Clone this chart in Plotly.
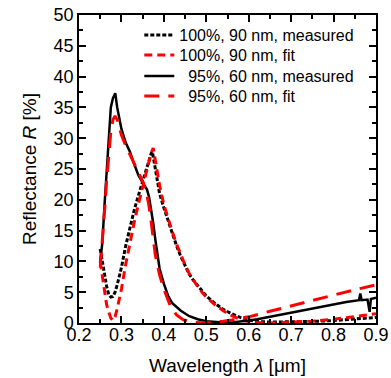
import plotly.graph_objects as go

# 100%, 90 nm, measured
wl_m100 = [0.25, 0.255, 0.26, 0.265, 0.27, 0.275, 0.28, 0.285, 0.29, 0.30, 0.31, 0.32, 0.33, 0.34, 0.35,
           0.36, 0.37, 0.373, 0.38, 0.39, 0.40, 0.41, 0.42, 0.43, 0.44, 0.45, 0.46, 0.47, 0.48, 0.49,
           0.50, 0.52, 0.54, 0.56, 0.58, 0.60, 0.62, 0.65, 0.70, 0.75, 0.80, 0.85, 0.90]
r_m100 = [12.0, 9.8, 7.8, 6.0, 4.6, 4.2, 4.3, 5.0, 6.2, 9.0, 12.5, 15.5, 18.3, 20.7, 23.0,
          25.3, 27.5, 27.8, 25.0, 21.0, 18.7, 16.5, 14.6, 12.5, 10.8, 9.2, 7.9, 6.9, 6.0, 5.1,
          4.4, 3.2, 2.2, 1.5, 0.9, 0.5, 0.25, 0.15, 0.15, 0.25, 0.4, 0.6, 0.9]

# 100%, 90 nm, fit
wl_f100 = [0.25, 0.255, 0.26, 0.265, 0.27, 0.275, 0.28, 0.285, 0.29, 0.30, 0.31, 0.32, 0.33, 0.34, 0.35,
           0.36, 0.37, 0.375, 0.38, 0.39, 0.40, 0.41, 0.42, 0.43, 0.44, 0.45, 0.46, 0.47, 0.48, 0.49,
           0.50, 0.52, 0.54, 0.56, 0.58, 0.60, 0.62, 0.65, 0.70, 0.75, 0.80, 0.85, 0.90]
r_f100 = [10.0, 7.5, 5.0, 3.0, 1.8, 0.8, 0.4, 1.0, 2.3, 5.5, 9.5, 13.0, 16.3, 19.3, 22.0,
          24.8, 27.6, 28.4, 26.5, 22.3, 19.2, 16.8, 14.8, 12.8, 11.0, 9.4, 8.0, 6.9, 5.9, 5.0,
          4.2, 3.0, 2.0, 1.2, 0.6, 0.2, 0.05, 0.0, 0.1, 0.3, 0.6, 1.0, 1.5]

# 95%, 60 nm, measured
wl_m95 = [0.25, 0.255, 0.26, 0.265, 0.27, 0.275, 0.28, 0.2855, 0.29, 0.30, 0.31, 0.32, 0.33, 0.34, 0.35,
          0.355, 0.36, 0.365, 0.37, 0.375, 0.38, 0.385, 0.39, 0.40, 0.41, 0.42, 0.44, 0.46, 0.48,
          0.50, 0.52, 0.54, 0.56, 0.58, 0.60, 0.62, 0.65, 0.70, 0.75, 0.79, 0.83, 0.86, 0.863,
          0.866, 0.88, 0.885, 0.888, 0.90]
r_m95 = [10.0, 13.0, 19.0, 25.0, 31.0, 35.0, 36.5, 37.3, 35.0, 31.5, 29.3, 27.8, 25.8, 24.0, 22.8,
         22.2, 21.7, 20.5, 18.5, 16.2, 13.5, 10.8, 8.8, 6.4, 4.4, 3.2, 2.0, 1.1, 0.6,
         0.3, 0.15, 0.1, 0.1, 0.2, 0.4, 0.6, 1.0, 1.6, 2.3, 2.9, 3.4, 3.7, 4.8,
         3.7, 3.8, 1.8, 3.9, 4.1]

# 95%, 60 nm, fit
wl_f95 = [0.25, 0.255, 0.26, 0.265, 0.27, 0.275, 0.28, 0.285, 0.29, 0.30, 0.31, 0.32, 0.33, 0.34, 0.35,
          0.36, 0.365, 0.37, 0.375, 0.38, 0.39, 0.40, 0.415, 0.43, 0.446, 0.47, 0.50, 0.52, 0.54,
          0.56, 0.58, 0.60, 0.65, 0.70, 0.75, 0.80, 0.85, 0.90]
r_f95 = [9.0, 13.0, 18.0, 23.0, 27.5, 31.0, 33.0, 33.6, 33.0, 30.5, 28.8, 27.3, 25.8, 24.5, 23.0,
         20.8, 19.0, 16.5, 14.0, 11.0, 7.8, 5.5, 2.8, 1.3, 0.5, 0.1, 0.0, 0.1, 0.3,
         0.5, 0.7, 1.0, 1.9, 2.8, 3.6, 4.6, 5.4, 6.2]

names = ["100%, 90 nm, measured", "100%, 90 nm, fit",
         "\u00a0\u00a095%, 60 nm, measured", "\u00a0\u00a095%, 60 nm, fit"]

FONT = "Arial, Liberation Sans, sans-serif"

fig = go.Figure()
fig.add_trace(go.Scatter(x=wl_m100, y=r_m100, mode="lines", name=names[0], legend="legend",
                         line=dict(color="black", width=3, dash="4px,2px")))
fig.add_trace(go.Scatter(x=wl_f100, y=r_f100, mode="lines", name=names[1], legend="legend2",
                         line=dict(color="#ff0000", width=3, dash="8px,5px")))
fig.add_trace(go.Scatter(x=wl_m95, y=r_m95, mode="lines", name=names[2], legend="legend3",
                         line=dict(color="black", width=2.5)))
fig.add_trace(go.Scatter(x=wl_f95, y=r_f95, mode="lines", name=names[3], legend="legend4",
                         line=dict(color="#ff0000", width=3, dash="15px,9px")))

axis_common = dict(
    showline=True, linecolor="black", linewidth=1.5, mirror="allticks",
    ticks="inside", ticklen=7, tickwidth=2, tickcolor="black",
    showgrid=False, zeroline=False, automargin=False,
    tickfont=dict(family=FONT, size=18, color="black"),
)

fig.update_xaxes(
    range=[0.2, 0.9], tickmode="linear", tick0=0.2, dtick=0.1, tickformat=".1f",
    ticklabelstandoff=-5,
    minor=dict(ticks="inside", ticklen=4, dtick=0.05, tick0=0.2, tickcolor="black", tickwidth=1.5),
    title=dict(text="Wavelength <i>λ</i> [μm]", font=dict(family=FONT, size=19, color="black"),
               standoff=14),
    **axis_common,
)
fig.update_yaxes(
    range=[0, 50], tickmode="linear", tick0=0, dtick=5,
    minor=dict(ticks="inside", ticklen=4, dtick=2.5, tick0=0, tickcolor="black", tickwidth=1.5),
    title=dict(text="Reflectance <i>R</i> [%]", font=dict(family=FONT, size=19, color="black"),
               standoff=12),
    **axis_common,
)

leg_common = dict(x=0.203, xanchor="left", yanchor="middle",
                  bgcolor="rgba(0,0,0,0)", borderwidth=0,
                  font=dict(family=FONT, size=16, color="black"))

fig.update_layout(
    template="none",
    width=391, height=378,
    margin=dict(l=79, r=15, t=15, b=55, autoexpand=False),
    paper_bgcolor="white", plot_bgcolor="white",
    font=dict(family=FONT, size=16, color="black"),
    showlegend=True,
    legend=dict(y=0.935, **leg_common),
    legend2=dict(y=0.870, **leg_common),
    legend3=dict(y=0.802, **leg_common),
    legend4=dict(y=0.737, **leg_common),
)

fig.write_html("out.html", config={"displayModeBar": False},
               post_script="document.body.style.margin='0';")
